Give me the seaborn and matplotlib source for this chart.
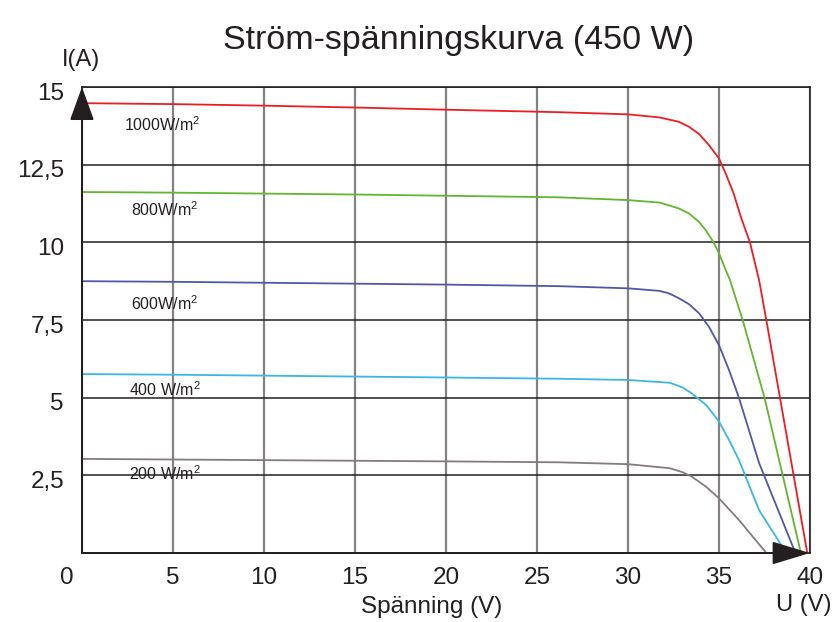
import matplotlib
matplotlib.use("Agg")
import matplotlib.pyplot as plt
import matplotlib.transforms as mtransforms
import pandas as pd
import seaborn as sns

# values
v_1000 = [0, 5, 10, 15, 20, 26.2, 30, 31.75, 32.8, 33.35, 33.9, 34.45, 35, 35.4, 35.8, 36.2, 36.7, 37.2,
          37.6, 38.35, 39.1, 39.85]
i_1000 = [14.48, 14.45, 14.40, 14.34, 14.27, 14.19, 14.12, 14.02, 13.88, 13.72, 13.49, 13.13, 12.70, 12.17,
          11.58, 10.82, 10.0, 8.79, 7.5, 5.0, 2.5, 0]

v_800 = [0, 5, 10, 15, 20, 26.2, 30, 31.75, 32.8, 33.35, 33.9, 34.3, 34.7, 35, 35.3, 35.6, 36.3, 37.5, 38.5, 39.5]
i_800 = [11.62, 11.60, 11.57, 11.54, 11.50, 11.45, 11.36, 11.28, 11.09, 10.93, 10.66, 10.37, 10.0, 9.65, 9.21,
         8.79, 7.5, 5.0, 2.5, 0]

v_600 = [0, 5, 10, 15, 20, 26.2, 30, 31.7, 32.25, 32.8, 33.35, 33.9, 34.45, 35, 35.55, 36.1, 37.2, 38.2, 39.2]
i_600 = [8.75, 8.73, 8.70, 8.67, 8.64, 8.59, 8.52, 8.44, 8.36, 8.20, 8.01, 7.72, 7.28, 6.69, 5.89, 4.99, 2.9,
         1.45, 0]

v_400 = [0, 5, 10, 15, 20, 26.2, 30, 32.3, 33.0, 33.5, 34.3, 34.65, 35, 35.55, 36.1, 37.2, 38.7]
i_400 = [5.76, 5.74, 5.71, 5.68, 5.65, 5.61, 5.57, 5.48, 5.33, 5.14, 4.76, 4.50, 4.23, 3.64, 2.99, 1.38, 0]

v_200 = [0, 5, 10, 15, 20, 26.2, 30, 32.3, 33.0, 33.5, 34.3, 35, 35.55, 36.1, 37.6]
i_200 = [3.03, 3.01, 2.99, 2.97, 2.95, 2.92, 2.86, 2.73, 2.60, 2.46, 2.13, 1.76, 1.41, 1.06, 0]

series_names = ["1000", "800", "600", "400", "200"]
curve_labels = ["1000W/m$^2$", "800W/m$^2$", "600W/m$^2$", "400 W/m$^2$", "200 W/m$^2$"]
label_pos_v = [2.3, 2.7, 2.7, 2.6, 2.6]
label_pos_i = [13.78, 11.04, 8.02, 5.25, 2.57]
colors = ["#ed1c24", "#62b62f", "#4f57a6", "#3ab6e6", "#847c7c"]

x_ticks = [0, 5, 10, 15, 20, 25, 30, 35, 40]
y_ticks = [2.5, 5, 7.5, 10, 12.5, 15]
y_tick_labels = ["2,5", "5", "7,5", "10", "12,5", "15"]

sns.set_style("white")
plt.rcParams["font.family"] = ["Liberation Sans", "DejaVu Sans"]
plt.rcParams["mathtext.default"] = "regular"

frames = []
for name, v, i in zip(series_names, [v_1000, v_800, v_600, v_400, v_200],
                      [i_1000, i_800, i_600, i_400, i_200]):
    frames.append(pd.DataFrame({"V": v, "I": i, "irr": name}))
df = pd.concat(frames, ignore_index=True)

fig, ax = plt.subplots(figsize=(8.33, 6.22), dpi=100)
fig.subplots_adjust(left=0.0984, right=0.9724, top=0.8601, bottom=0.1109)

sns.lineplot(data=df, x="V", y="I", hue="irr", palette=dict(zip(series_names, colors)),
             estimator=None, sort=False, legend=False, linewidth=1.3, ax=ax, zorder=3)

ax.set_xlim(0, 40)
ax.set_ylim(0, 15)
ax.set_xticks(x_ticks)
ax.set_xticklabels([str(t) for t in x_ticks])
ax.set_yticks(y_ticks)
ax.set_yticklabels(y_tick_labels)
ax.tick_params(axis="x", length=0, pad=10, labelsize=17.5, colors="#231f20")
ax.tick_params(axis="y", length=0, pad=13, labelsize=17.5, colors="#231f20")
ax.set_xlabel("")
ax.set_ylabel("")

# shift the "0" label left of the corner and y labels slightly down
lbl0 = ax.get_xticklabels()[0]
lbl0.set_transform(lbl0.get_transform() + mtransforms.ScaledTranslation(-0.15, 0, fig.dpi_scale_trans))
for lbl in ax.get_yticklabels():
    lbl.set_transform(lbl.get_transform() + mtransforms.ScaledTranslation(0, -0.04, fig.dpi_scale_trans))

ax.set_axisbelow(True)
ax.xaxis.grid(True, color="#858181", linewidth=1.6)
ax.yaxis.grid(True, color="#231f20", linewidth=1.1)

for side in ["top", "right", "left", "bottom"]:
    ax.spines[side].set_visible(True)
    ax.spines[side].set_color("#231f20")
    ax.spines[side].set_linewidth(1.2)

# axis arrows
ax.annotate("", xy=(0, 1), xytext=(0, 0), xycoords="axes fraction",
            arrowprops=dict(arrowstyle="-|>,head_length=1.05,head_width=0.38", mutation_scale=20,
                            color="#231f20", lw=1.4, shrinkA=0, shrinkB=0), annotation_clip=False, zorder=5)
ax.annotate("", xy=(1, 0), xytext=(0, 0), xycoords="axes fraction",
            arrowprops=dict(arrowstyle="-|>,head_length=1.19,head_width=0.36", mutation_scale=20,
                            color="#231f20", lw=1.4, shrinkA=0, shrinkB=0), annotation_clip=False, zorder=5)

for txt, xv, yv in zip(curve_labels, label_pos_v, label_pos_i):
    ax.text(xv, yv, txt, fontsize=11.5, color="#231f20", ha="left", va="center", zorder=4)

fig.text(459 / 833, 1 - 41 / 622, "Ström-spänningskurva (450 W)", fontsize=24.5,
         color="#231f20", ha="center", va="center")
fig.text(81 / 833, 1 - 60 / 622, "I(A)", fontsize=17, color="#231f20", ha="center", va="center")
fig.text(432 / 833, 1 - 607 / 622, "Spänning (V)", fontsize=17.5, color="#231f20", ha="center", va="center")
fig.text(776 / 833, 1 - 605 / 622, "U (V)", fontsize=17, color="#231f20", ha="left", va="center")

fig.savefig("out.png", dpi=100)
